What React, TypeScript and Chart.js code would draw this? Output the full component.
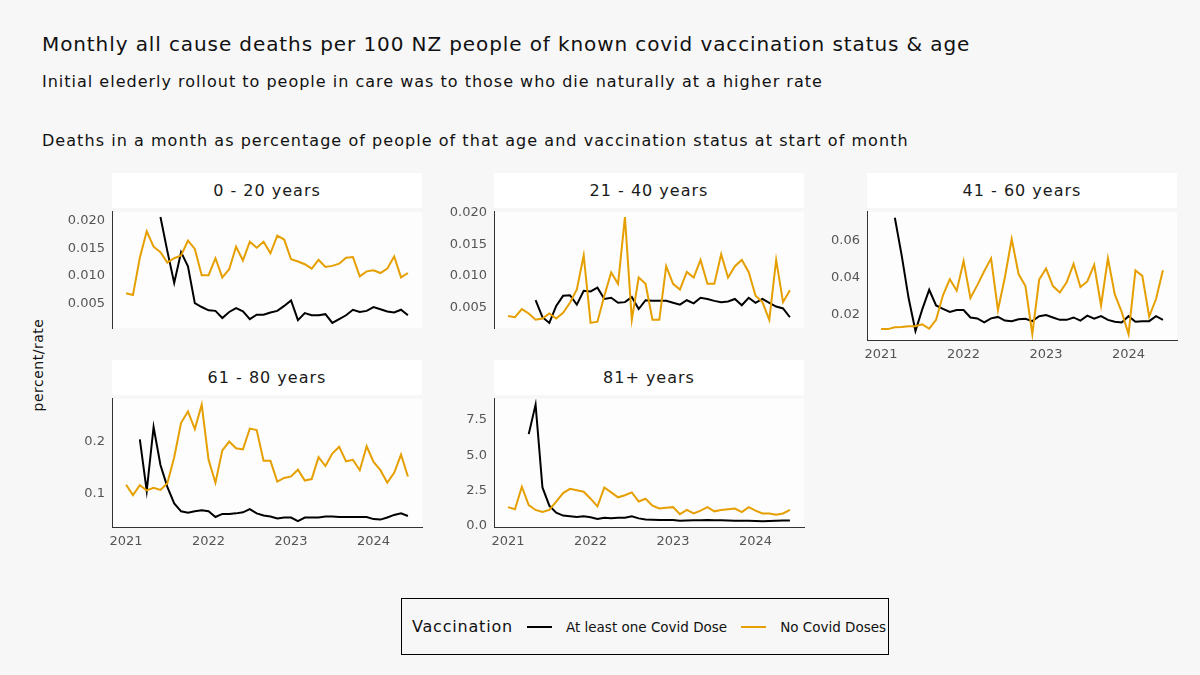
import { useEffect, useRef } from 'react';
import { Chart, registerables } from 'chart.js';
Chart.register(...registerables);

// months Jan 2021 .. Jun 2024 as index 0..41
const months = Array.from({ length: 42 }, (_, i) => i);
const yearTicks = [0, 12, 24, 36];
const yearLabels = ['2021', '2022', '2023', '2024'];

const n = null;
const vax0_20 = [n, n, n, n, n, 0.0207, 0.0145, 0.0087, 0.0143, 0.0117, 0.0050, 0.0043, 0.0037, 0.0036, 0.0023, 0.0034, 0.0041, 0.0035, 0.0021, 0.0029, 0.0029, 0.0033, 0.0036, 0.0045, 0.0055, 0.0019, 0.0032, 0.0028, 0.0028, 0.0030, 0.0014, 0.0021, 0.0028, 0.0038, 0.0034, 0.0036, 0.0043, 0.0039, 0.0035, 0.0033, 0.0038, 0.0028];
const unvax0_20 = [0.0068, 0.0065, 0.0133, 0.0181, 0.0153, 0.0143, 0.0124, 0.0132, 0.0137, 0.0164, 0.0149, 0.0101, 0.0101, 0.0132, 0.0097, 0.0112, 0.0153, 0.0128, 0.0162, 0.0151, 0.0162, 0.0141, 0.0173, 0.0166, 0.0130, 0.0126, 0.0121, 0.0113, 0.0129, 0.0116, 0.0118, 0.0122, 0.0133, 0.0134, 0.0099, 0.0108, 0.0110, 0.0105, 0.0113, 0.0135, 0.0097, 0.0105];
const vax21_40 = [n, n, n, n, 0.0061, 0.0034, 0.0025, 0.0052, 0.0068, 0.0069, 0.0054, 0.0076, 0.0075, 0.0081, 0.0063, 0.0065, 0.0057, 0.0058, 0.0066, 0.0047, 0.0061, 0.0060, 0.0060, 0.0060, 0.0057, 0.0054, 0.0061, 0.0056, 0.0065, 0.0063, 0.0060, 0.0058, 0.0059, 0.0063, 0.0053, 0.0065, 0.0057, 0.0063, 0.0057, 0.0051, 0.0048, 0.0034];
const unvax21_40 = [0.0036, 0.0034, 0.0047, 0.0040, 0.0030, 0.0032, 0.0040, 0.0032, 0.0041, 0.0057, 0.0078, 0.0132, 0.0025, 0.0027, 0.0068, 0.0105, 0.0087, 0.0193, 0.0030, 0.0097, 0.0087, 0.0030, 0.0030, 0.0115, 0.0087, 0.0078, 0.0106, 0.0097, 0.0125, 0.0087, 0.0087, 0.0134, 0.0097, 0.0115, 0.0125, 0.0106, 0.0068, 0.0058, 0.0030, 0.0125, 0.0058, 0.0077];
const vax41_60 = [n, n, 0.0725, 0.052, 0.029, 0.0112, 0.0230, 0.0335, 0.0250, 0.0232, 0.0215, 0.0225, 0.0225, 0.0185, 0.0180, 0.0158, 0.0180, 0.0188, 0.0168, 0.0165, 0.0175, 0.0178, 0.0165, 0.0192, 0.0198, 0.0185, 0.0172, 0.0172, 0.0185, 0.0168, 0.0195, 0.0178, 0.0192, 0.0172, 0.0162, 0.0158, 0.0192, 0.0162, 0.0165, 0.0165, 0.0192, 0.0172];
const unvax41_60 = [0.0122, 0.0122, 0.0132, 0.0134, 0.0138, 0.0138, 0.0148, 0.0124, 0.0172, 0.0305, 0.0392, 0.0330, 0.0490, 0.0290, 0.0360, 0.0435, 0.0505, 0.0225, 0.0400, 0.0610, 0.0420, 0.0355, 0.0095, 0.0390, 0.0450, 0.0355, 0.0320, 0.0375, 0.0475, 0.0350, 0.0380, 0.0470, 0.0250, 0.0505, 0.0310, 0.0215, 0.0095, 0.0440, 0.0410, 0.0190, 0.0285, 0.0440];
const vax61_80 = [n, n, 0.204, 0.105, 0.228, 0.155, 0.113, 0.081, 0.066, 0.063, 0.066, 0.068, 0.066, 0.055, 0.061, 0.061, 0.062, 0.064, 0.070, 0.062, 0.058, 0.056, 0.052, 0.054, 0.054, 0.047, 0.054, 0.054, 0.054, 0.056, 0.056, 0.055, 0.055, 0.055, 0.055, 0.055, 0.051, 0.050, 0.054, 0.059, 0.062, 0.057];
const unvax61_80 = [0.117, 0.097, 0.116, 0.106, 0.111, 0.107, 0.120, 0.170, 0.236, 0.258, 0.224, 0.271, 0.165, 0.121, 0.183, 0.200, 0.187, 0.185, 0.225, 0.222, 0.163, 0.163, 0.123, 0.130, 0.133, 0.146, 0.125, 0.128, 0.170, 0.153, 0.177, 0.190, 0.162, 0.165, 0.145, 0.191, 0.161, 0.145, 0.121, 0.140, 0.175, 0.133];
const vax81 = [n, n, n, 6.5, 8.6, 2.7, 1.4, 0.9, 0.7, 0.65, 0.6, 0.65, 0.58, 0.45, 0.55, 0.5, 0.55, 0.55, 0.65, 0.5, 0.42, 0.4, 0.38, 0.38, 0.38, 0.33, 0.35, 0.36, 0.36, 0.38, 0.37, 0.36, 0.35, 0.33, 0.33, 0.33, 0.32, 0.3, 0.32, 0.33, 0.35, 0.35];
const unvax81 = [1.3, 1.15, 2.75, 1.45, 1.1, 0.95, 1.1, 1.7, 2.3, 2.6, 2.5, 2.4, 1.9, 1.35, 2.7, 2.35, 2.0, 2.15, 2.35, 1.7, 1.9, 1.4, 1.2, 1.25, 1.3, 0.8, 1.1, 0.85, 1.05, 1.3, 1.0, 1.1, 1.15, 1.2, 0.95, 1.3, 1.05, 0.85, 0.85, 0.75, 0.85, 1.1];

const FONT = 'DejaVu Sans';
const BG = '#f7f7f7';

interface PanelProps {
  title: string;
  left: number;
  top: number;
  vax: (number | null)[];
  unvax: number[];
  yMin: number;
  yMax: number;
  yTicks: number[];
  fmt: (v: number) => string;
  showX: boolean;
}

function Panel({ title, left, top, vax, unvax, yMin, yMax, yTicks, fmt, showX }: PanelProps) {
  const canvasRef = useRef<HTMLCanvasElement>(null);
  useEffect(() => {
    if (!canvasRef.current) return;
    const chart = new Chart(canvasRef.current, {
      type: 'line',
      data: {
        labels: months,
        datasets: [
          { data: unvax, borderColor: '#e69f00', borderWidth: 2, pointRadius: 0, tension: 0 },
          { data: vax, borderColor: '#000', borderWidth: 2, pointRadius: 0, tension: 0 },
        ],
      },
      options: {
        animation: false,
        responsive: false,
        layout: { padding: { top: 0, right: 2, bottom: 0, left: 0 } },
        plugins: { legend: { display: false }, tooltip: { enabled: false } },
        scales: {
          x: {
            type: 'linear', min: -2.05, max: 43.05, display: showX,
            afterBuildTicks: (s: any) => { s.ticks = yearTicks.map(v => ({ value: v })); },
            afterFit: (s: any) => { s.height = showX ? 22 : 0; },
            ticks: { color: '#555', font: { size: 13, family: FONT }, padding: 4, callback: (v: any) => yearLabels[yearTicks.indexOf(Number(v))] ?? '' },
            grid: { display: false, drawTicks: true, tickLength: 3, tickColor: '#333' } as any,
            border: { display: true, color: '#333', width: 1 },
          },
          y: {
            min: yMin, max: yMax,
            afterBuildTicks: (s: any) => { s.ticks = yTicks.map(v => ({ value: v })); },
            afterFit: (s: any) => { s.width = 72; },
            ticks: { color: '#555', font: { size: 13, family: FONT }, padding: 4, callback: (v: any) => fmt(Number(v)) },
            grid: { display: false, drawTicks: true, tickLength: 3, tickColor: '#333' } as any,
            border: { display: true, color: '#333', width: 1 },
          },
        },
      } as any,
      plugins: [{
        id: 'panelBg',
        beforeDraw: (c: any) => {
          const a = c.chartArea;
          c.ctx.save();
          c.ctx.fillStyle = '#fdfdfd';
          c.ctx.fillRect(a.left, a.top, a.right - a.left, a.bottom - a.top);
          c.ctx.restore();
        },
      }],
    });
    return () => { chart.destroy(); };
  }, []);

  return (
    <>
      <div style={{ position: 'absolute', left, top, width: 310, height: 35, background: '#fff', display: 'flex', alignItems: 'center', justifyContent: 'center', fontSize: 16, letterSpacing: 1, color: '#1a1a1a' }}>{title}</div>
      <canvas ref={canvasRef} width={384} height={showX ? 162 : 140} style={{ position: 'absolute', left: left - 72, top: top + 27 }} />
    </>
  );
}

const f3 = (v: number) => v.toFixed(3);
const f2 = (v: number) => v.toFixed(2);
const f1 = (v: number) => v.toFixed(1);

export default function App() {
  return (
    <div style={{ position: 'absolute', left: 0, top: 0, width: 1200, height: 675, background: BG, fontFamily: FONT, color: '#111', overflow: 'hidden' }}>
      <div style={{ position: 'absolute', left: 42, top: 32, fontSize: 20, letterSpacing: 0.9, whiteSpace: 'nowrap' }}>Monthly all cause deaths per 100 NZ people of known covid vaccination status &amp; age</div>
      <div style={{ position: 'absolute', left: 42, top: 72, fontSize: 16, letterSpacing: 1, whiteSpace: 'nowrap' }}>Initial elederly rollout to people in care was to those who die naturally at a higher rate</div>
      <div style={{ position: 'absolute', left: 42, top: 131, fontSize: 16, letterSpacing: 1.05, whiteSpace: 'nowrap' }}>Deaths in a month as percentage of people of that age and vaccination status at start of month</div>
      <div style={{ position: 'absolute', left: 38, top: 365, fontSize: 14, letterSpacing: 0.5, transform: 'translate(-50%, -50%) rotate(-90deg)', whiteSpace: 'nowrap' }}>percent/rate</div>

      <Panel title="0 - 20 years" left={112} top={173} vax={vax0_20} unvax={unvax0_20} yMin={0.00044} yMax={0.02166} yTicks={[0.005, 0.01, 0.015, 0.02]} fmt={f3} showX={false} />
      <Panel title="21 - 40 years" left={494} top={173} vax={vax21_40} unvax={unvax21_40} yMin={0.00166} yMax={0.02014} yTicks={[0.005, 0.01, 0.015, 0.02]} fmt={f3} showX={false} />
      <Panel title="41 - 60 years" left={867} top={173} vax={vax41_60} unvax={unvax41_60} yMin={0.0063} yMax={0.0757} yTicks={[0.02, 0.04, 0.06]} fmt={f2} showX={true} />
      <Panel title="61 - 80 years" left={112} top={360} vax={vax61_80} unvax={unvax61_80} yMin={0.0358} yMax={0.2822} yTicks={[0.1, 0.2]} fmt={f1} showX={true} />
      <Panel title="81+ years" left={494} top={360} vax={vax81} unvax={unvax81} yMin={-0.115} yMax={9.015} yTicks={[0, 2.5, 5, 7.5]} fmt={f1} showX={true} />

      <div style={{ position: 'absolute', left: 401, top: 598, width: 486, height: 55, border: '1.5px solid #000', background: BG, display: 'flex', alignItems: 'center' }}>
        <span style={{ marginLeft: 10, fontSize: 16, letterSpacing: 0.8 }}>Vaccination</span>
        <span style={{ marginLeft: 14, width: 25, height: 2, background: '#000', display: 'inline-block' }} />
        <span style={{ marginLeft: 14, fontSize: 13.5 }}>At least one Covid Dose</span>
        <span style={{ marginLeft: 14, width: 25, height: 2, background: '#e69f00', display: 'inline-block' }} />
        <span style={{ marginLeft: 14, fontSize: 13.5 }}>No Covid Doses</span>
      </div>
    </div>
  );
}
